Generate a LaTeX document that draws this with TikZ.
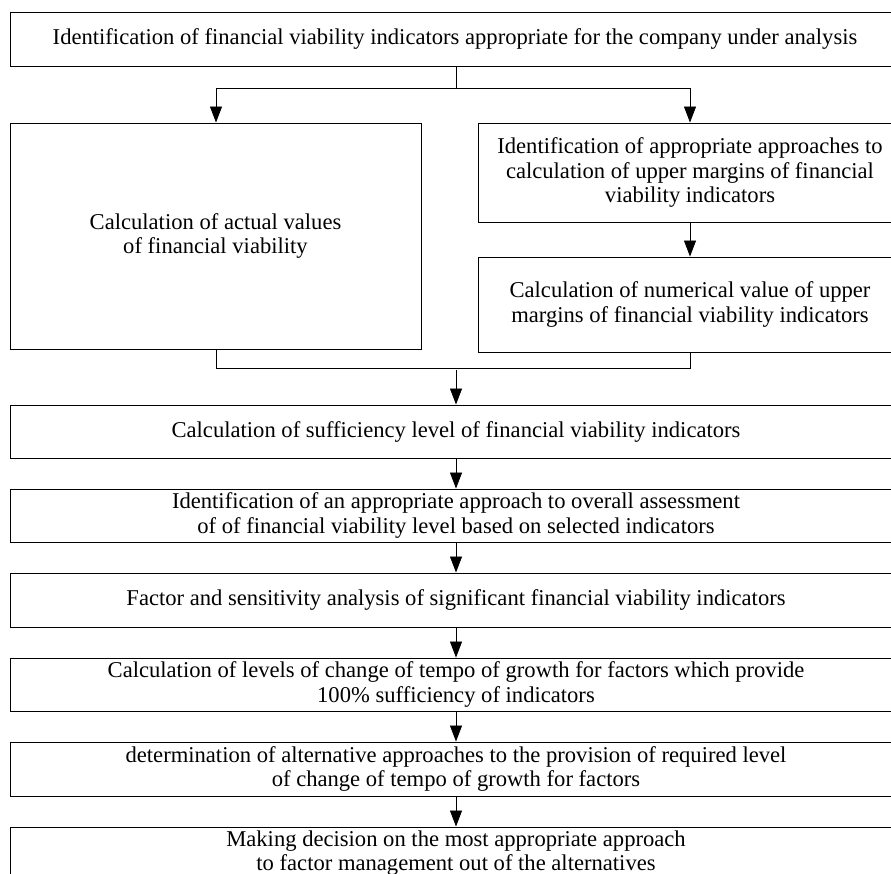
\documentclass[tikz,border=0pt]{standalone}
\usepackage{fontspec}
\setmainfont{Liberation Serif}
\usetikzlibrary{arrows.meta}
\begin{document}
\begin{tikzpicture}[x=1pt,y=-1pt,
  box/.style={draw, line width=0.9pt, rectangle, inner sep=0pt, align=center,
    font=\fontsize{22.6}{24.5}\selectfont},
  conn/.style={line width=0.8pt},
  arr/.style={line width=0.8pt, -{Triangle[length=16pt,width=12pt]}}]
\useasboundingbox (0,0) rectangle (891,874);
\clip (0,0) rectangle (891,874);
\node[box, minimum width=890pt, minimum height=53.5pt] (top) at (455,39.25)
  {Identification of financial viability indicators appropriate for the company under analysis};
\node[box, minimum width=411pt, minimum height=226pt] (left) at (215.5,236)
  {Calculation of actual values\\of financial viability};
\node[box, minimum width=424pt, minimum height=99pt] (r1) at (690,172.5)
  {Identification of appropriate approaches to\\calculation of upper margins of financial\\viability indicators};
\node[box, minimum width=424pt, minimum height=95pt] (r2) at (690,304.5)
  {Calculation of numerical value of upper\\margins of financial viability indicators};
\node[box, minimum width=892pt, minimum height=53pt] (b1) at (456,431.5)
  {Calculation of sufficiency level of financial viability indicators};
\node[box, minimum width=892pt, minimum height=53pt] (b2) at (456,515.5)
  {Identification of an appropriate approach to overall assessment\\of of financial viability level based on selected indicators};
\node[box, minimum width=892pt, minimum height=54pt] (b3) at (456,600)
  {Factor and sensitivity analysis of significant financial viability indicators};
\node[box, minimum width=892pt, minimum height=53pt] (b4) at (456,684.5)
  {Calculation of levels of change of tempo of growth for factors which provide\\100\% sufficiency of indicators};
\node[box, minimum width=892pt, minimum height=54pt] (b5) at (456,769)
  {determination of alternative approaches to the provision of required level\\of change of tempo of growth for factors};
\node[box, minimum width=892pt, minimum height=52pt] (b6) at (456,853)
  {Making decision on the most appropriate approach\\to factor management out of the alternatives};
% top split
\coordinate (s0) at (456,88);
\coordinate (sl) at (216,88);
\coordinate (sr) at (690,88);
\draw[conn] (top.south -| s0) -- (s0);
\draw[conn] (sl) -- (sr);
\draw[arr] (sl) -- (sl |- left.north);
\draw[arr] (sr) -- (sr |- r1.north);
\draw[arr] (r1.south -| sr) -- (r2.north -| sr);
% merge bracket
\coordinate (ml) at (216,368);
\coordinate (mr) at (690,368);
\coordinate (mc) at (456,370);
\draw[conn] (left.south -| ml) -- (ml) -- (mr) -- (r2.south -| mr);
\draw[arr] (mc) -- (mc |- b1.north);
\draw[arr] (b1.south) -- (b2.north);
\draw[arr] (b2.south) -- (b3.north);
\draw[arr] (b3.south) -- (b4.north);
\draw[arr] (b4.south) -- (b5.north);
\draw[arr] (b5.south) -- (b6.north);
\end{tikzpicture}
\end{document}
